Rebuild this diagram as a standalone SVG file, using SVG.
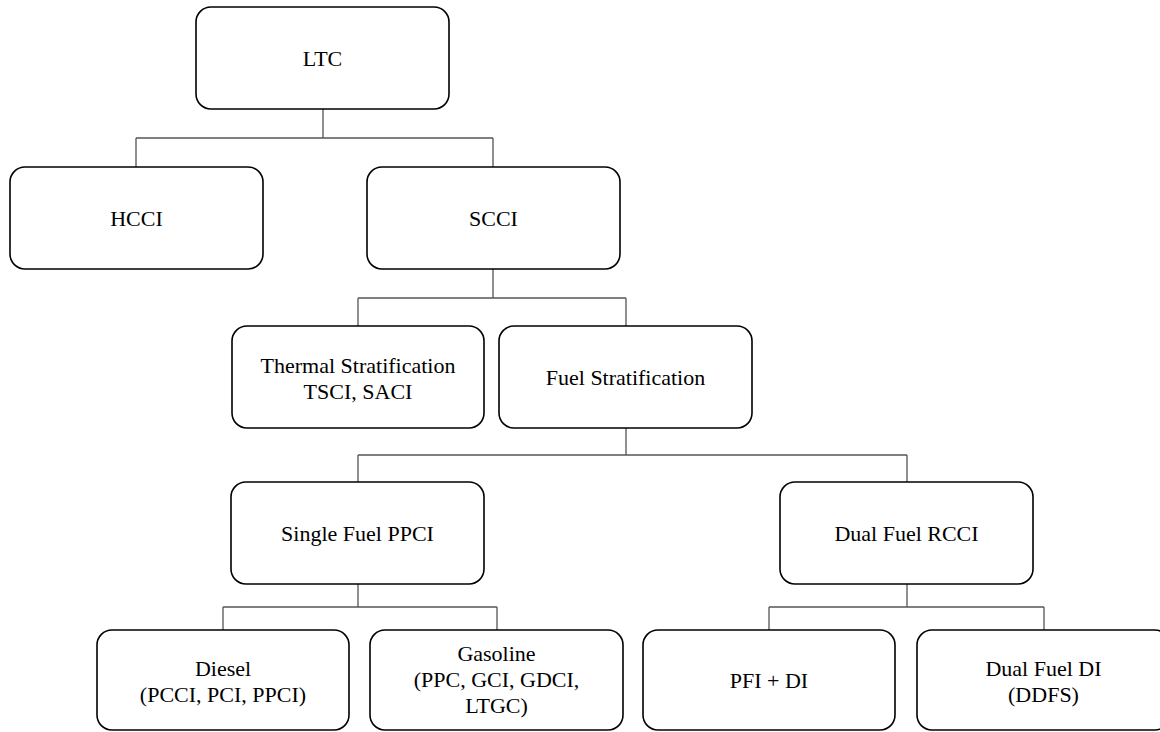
<svg xmlns="http://www.w3.org/2000/svg" width="1160" height="732" viewBox="0 0 1160 732">
<style>
.box{fill:#fff;stroke:#000;stroke-width:1.6}
.t{font-family:"Liberation Serif","Times New Roman",serif;font-size:22px;fill:#000;text-anchor:middle}
.c{fill:none;stroke:#555;stroke-width:1.3}
</style>
<rect width="1160" height="732" fill="#fff"/>
<g id="connectors">
<path class="c" d="M323 109V138M136 138H493M136 138V167M493 138V167"/>
<path class="c" d="M493 269V298M358 298H626M358 298V326M626 298V326"/>
<path class="c" d="M626 428V455M358 455H907M358 455V482M907 455V482"/>
<path class="c" d="M358 584V607M223 607H497M223 607V630M497 607V630"/>
<path class="c" d="M907 584V607M769 607H1044M769 607V630M1044 607V630"/>
</g>
<g id="ltc"><rect class="box" x="196" y="7" width="253" height="102" rx="15"/><text class="t" x="322.5" y="66">LTC</text></g>
<g id="hcci"><rect class="box" x="10" y="167" width="253" height="102" rx="15"/><text class="t" x="136.5" y="226">HCCI</text></g>
<g id="scci"><rect class="box" x="367" y="167" width="253" height="102" rx="15"/><text class="t" x="493.5" y="226">SCCI</text></g>
<g id="thermal"><rect class="box" x="232" y="326" width="252" height="102" rx="15"/><text class="t" x="358" y="373">Thermal Stratification</text><text class="t" x="358" y="399">TSCI, SACI</text></g>
<g id="fuelstrat"><rect class="box" x="499" y="326" width="253" height="102" rx="15"/><text class="t" x="625.5" y="384.5">Fuel Stratification</text></g>
<g id="single"><rect class="box" x="231" y="482" width="253" height="102" rx="15"/><text class="t" x="357.5" y="540.5">Single Fuel PPCI</text></g>
<g id="rcci"><rect class="box" x="780" y="482" width="253" height="102" rx="15"/><text class="t" x="906.5" y="540.5">Dual Fuel RCCI</text></g>
<g id="diesel"><rect class="box" x="97" y="630" width="252" height="100" rx="15"/><text class="t" x="223" y="676">Diesel</text><text class="t" x="223" y="702">(PCCI, PCI, PPCI)</text></g>
<g id="gasoline"><rect class="box" x="370" y="630" width="253" height="100" rx="15"/><text class="t" x="496.5" y="661">Gasoline</text><text class="t" x="496.5" y="687">(PPC, GCI, GDCI,</text><text class="t" x="496.5" y="713">LTGC)</text></g>
<g id="pfi"><rect class="box" x="643" y="630" width="252" height="100" rx="15"/><text class="t" x="769" y="688">PFI + DI</text></g>
<g id="dualdi"><rect class="box" x="917" y="630" width="253" height="100" rx="15"/><text class="t" x="1043.5" y="676">Dual Fuel DI</text><text class="t" x="1043.5" y="702">(DDFS)</text></g>
</svg>
